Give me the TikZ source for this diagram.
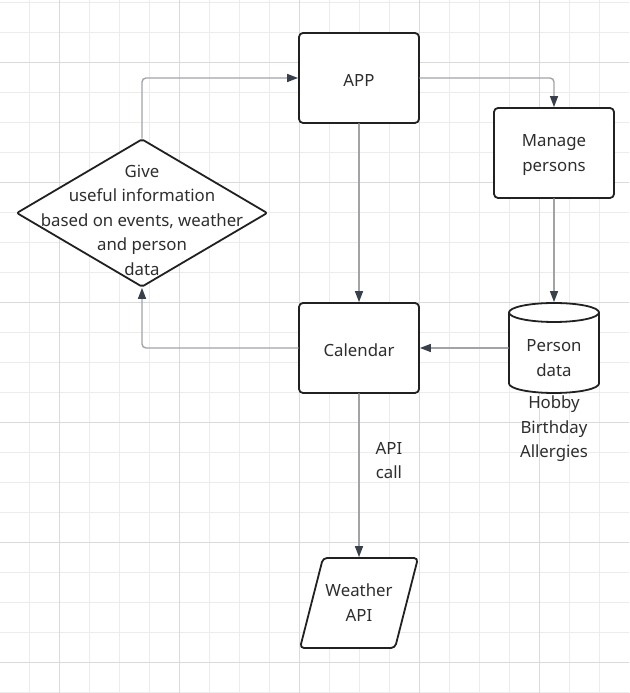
\documentclass[tikz,border=0pt]{standalone}
\usepackage{fontspec}
\setmainfont{Noto Sans}
\usetikzlibrary{arrows.meta}
\usetikzlibrary{shapes.geometric}
\definecolor{gridminor}{rgb}{0.925,0.925,0.925}
\definecolor{gridmajor}{rgb}{0.855,0.855,0.855}
\definecolor{linkgray}{rgb}{0.63,0.64,0.66}
\definecolor{tipgray}{rgb}{0.22,0.25,0.30}
\definecolor{boxline}{rgb}{0.13,0.13,0.13}
\definecolor{txtgray}{rgb}{0.18,0.18,0.18}

\tikzset{
  gridline/.style={draw=gridminor,line width=1pt},
  gridbold/.style={draw=gridmajor,line width=1pt},
  border/.style={draw=boxline,line width=1.8pt,fill=white},
  box/.style={border,rounded corners=4pt,minimum width=120pt,minimum height=90pt,inner sep=0pt},
  decision/.style={border,shape=diamond,rounded corners=2pt,minimum width=251pt,minimum height=148pt,inner sep=0pt},
  hidden/.style={draw=none,minimum width=90pt,minimum height=90pt,inner sep=0pt,outer sep=0.9pt},
  caption/.style={text=txtgray,align=center,inner sep=0pt},
  link/.style={draw=linkgray,line width=1.4pt,rounded corners=4pt,-{Triangle[length=11pt,width=8pt,color=tipgray]}}
}

\begin{document}
\begin{tikzpicture}[line cap=round,line join=round,x=1pt,y=1pt,font=\fontsize{16.8}{24.5}\selectfont]
\useasboundingbox (0,0) rectangle (629,693);
\clip (0,0) rectangle (629,693);
% grid
\foreach \k in {1,...,20} \draw[gridline] ({30*\k-0.5},0) -- ({30*\k-0.5},693);
\foreach \k in {0,...,23} \draw[gridline] (0,{690.7-30*\k}) -- (629,{690.7-30*\k});
\foreach \k in {2,6,10,14,18} \draw[gridbold] ({30*\k-0.5},0) -- ({30*\k-0.5},693);
\foreach \k in {2,6,10,14,18,22} \draw[gridbold] (0,{690.7-30*\k}) -- (629,{690.7-30*\k});

% boxes
\node[box] (app) at (359,615) {};
\node[caption] (apptext) at (359,613) {APP};
\node[box] (manage) at (554,540) {};
\node[caption] (managetext) at (554,538) {Manage\\persons};
\node[box] (cal) at (359,345) {};
\node[caption] (caltext) at (359,343) {Calendar};

% decision
\node[decision] (info) at (142,480) {};
\node[caption] (infotext) at (142,473) {Give\\useful information\\based on events, weather\\and person\\data};

% person data store
\draw[border] (509,380.5) -- (509,309.5) arc[start angle=180,end angle=360,x radius=45pt,y radius=9.5pt]
  -- (599,380.5) arc[start angle=0,end angle=180,x radius=45pt,y radius=9.5pt] -- cycle;
\draw[border,fill=none] (509,380.5) arc[start angle=180,end angle=360,x radius=45pt,y radius=9.5pt];
\node[hidden] (pdata) at (554,345) {};
\node[caption] (pdatatext) at (554,335) {Person\\data};
\node[caption] (fields) at (554,264) {Hobby\\Birthday\\Allergies};

% weather api
\draw[border,rounded corners=4pt] (323,135) -- (418,135) -- (395,45) -- (300,45) -- cycle;
\node[hidden,minimum width=95pt] (wapi) at (359,90) {};
\node[caption] (wapitext) at (359,90.5) {Weather\\API};

% connectors
\draw[link] (info.north) |- (app.west);
\draw[link] (app.east) -| (manage.north);
\draw[link] (app.south) -- (cal.north);
\draw[link] (manage.south) -- (pdata.north);
\draw[link] (pdata.west) -- (cal.east);
\draw[link] (cal.west) -| (info.south);
\draw[link] (cal.south) -- node[caption,pos=0.41,anchor=west,xshift=16pt] (apicall) {API\\call} (wapi.north);
\end{tikzpicture}
\end{document}
